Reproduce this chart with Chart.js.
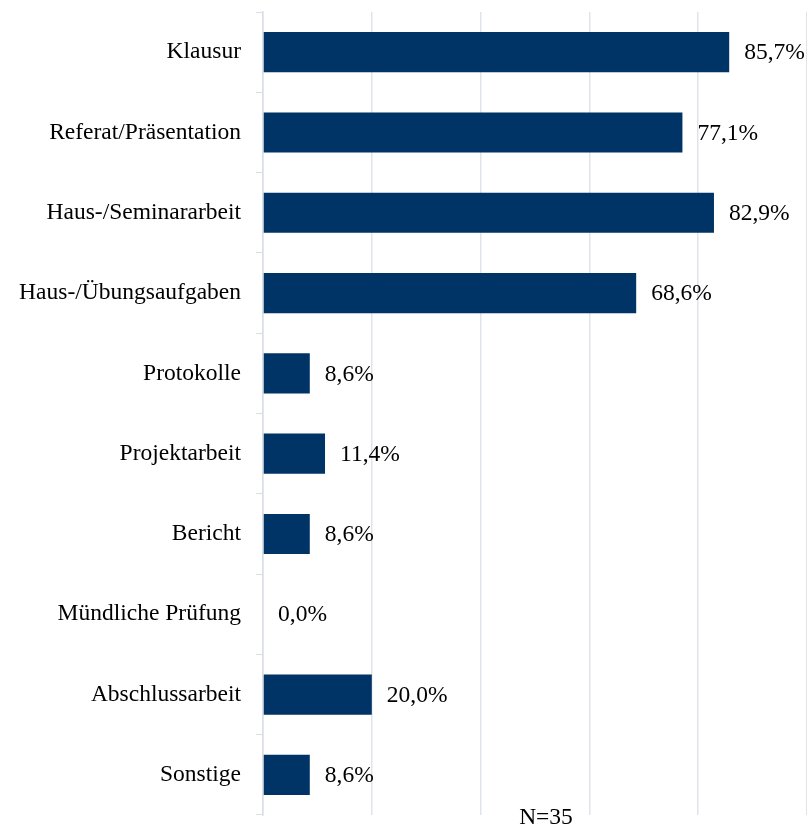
<!DOCTYPE html>
<html>
<head>
<meta charset="utf-8">
<script src="https://cdn.jsdelivr.net/npm/chart.js@4"></script>
<style>
  html, body { margin: 0; padding: 0; background: #fff; }
  #wrap { width: 807px; height: 827px; }
</style>
</head>
<body>
<div id="wrap"><canvas id="chart"></canvas></div>
<script>
// Categories and shares (in percent)
const categories = [
  'Klausur',
  'Referat/Präsentation',
  'Haus-/Seminararbeit',
  'Haus-/Übungsaufgaben',
  'Protokolle',
  'Projektarbeit',
  'Bericht',
  'Mündliche Prüfung',
  'Abschlussarbeit',
  'Sonstige'
];
const shares = [85.7, 77.1, 82.9, 68.6, 8.6, 11.4, 8.6, 0.0, 20.0, 8.6];
const sampleNote = 'N=35';

const FONT = '"Liberation Serif", "Times New Roman", serif';

// Draw the value labels next to the bars and the N note below
const valueLabels = {
  id: 'valueLabels',
  afterDatasetsDraw(chart) {
    const ctx = chart.ctx;
    const meta = chart.getDatasetMeta(0);
    ctx.save();
    ctx.font = '23.5px ' + FONT;
    ctx.fillStyle = '#000';
    ctx.textAlign = 'left';
    ctx.textBaseline = 'middle';
    meta.data.forEach((bar, i) => {
      const txt = shares[i].toFixed(1).replace('.', ',') + '%';
      ctx.fillText(txt, bar.x + 15, bar.y + 1);
    });
    ctx.textAlign = 'center';
    ctx.textBaseline = 'middle';
    ctx.fillText(sampleNote, 546, 818);
    ctx.restore();
  }
};

new Chart(document.getElementById('chart'), {
  type: 'bar',
  data: {
    labels: categories,
    datasets: [{
      data: shares,
      backgroundColor: '#003366',
      borderWidth: 0,
      barPercentage: 0.5,
      categoryPercentage: 1.0
    }]
  },
  options: {
    indexAxis: 'y',
    responsive: true,
    maintainAspectRatio: false,
    animation: false,
    layout: { padding: { top: 12, bottom: 12, left: 0, right: 0 } },
    plugins: {
      legend: { display: false },
      tooltip: { enabled: false }
    },
    scales: {
      x: {
        min: 0,
        max: 100,
        ticks: { display: false, stepSize: 20 },
        grid: { color: '#dfe3ea', lineWidth: 1.5, drawTicks: false },
        border: { display: false }
      },
      y: {
        afterFit: s => {
          s.width = 263;
          s.paddingTop = 0;
          s.paddingBottom = 0;
        },
        ticks: {
          color: '#000',
          font: { family: FONT, size: 23.5 },
          padding: 15
        },
        grid: {
          offset: true,
          drawOnChartArea: false,
          color: '#d9dee6',
          tickLength: 7
        },
        border: { display: true, color: '#d9dee6', width: 1.5 }
      }
    }
  },
  plugins: [valueLabels]
});
</script>
</body>
</html>
